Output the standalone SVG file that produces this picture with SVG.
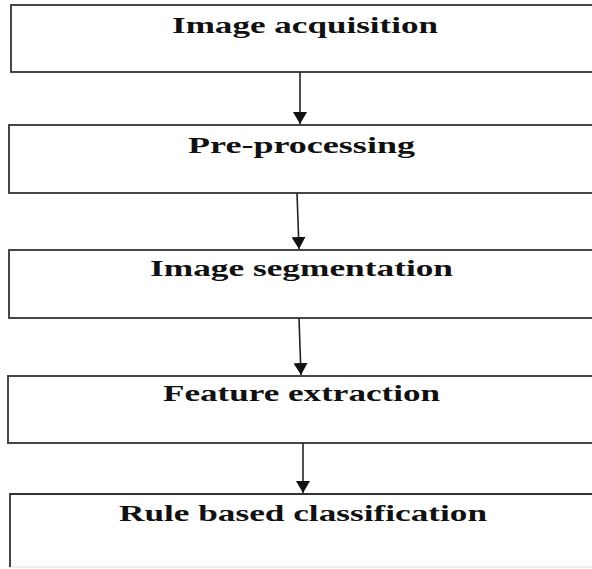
<svg xmlns="http://www.w3.org/2000/svg" width="592" height="569" viewBox="0 0 592 569">
<defs>
<style>
.box{fill:#fff;stroke:#333;stroke-width:1.8}
.lbl{font-family:"Liberation Serif","Times New Roman",serif;font-weight:bold;font-size:23px;fill:#111}
.conn{stroke:#222;stroke-width:1.6;fill:none}
</style>
<marker id="arr" markerUnits="userSpaceOnUse" markerWidth="16" markerHeight="14" refX="12" refY="7" orient="auto">
<path d="M0,0 L12,7 L0,14 Z" fill="#111"/>
</marker>
</defs>
<rect width="592" height="569" fill="#fff"/>
<g id="n1">
<rect class="box" x="11" y="5" width="600" height="67"/>
<text class="lbl" x="172" y="33" textLength="266" lengthAdjust="spacingAndGlyphs">Image acquisition</text>
</g>
<g id="n2">
<rect class="box" x="9" y="125" width="600" height="68"/>
<text class="lbl" x="188" y="153" textLength="227" lengthAdjust="spacingAndGlyphs">Pre-processing</text>
</g>
<g id="n3">
<rect class="box" x="9" y="250" width="600" height="68"/>
<text class="lbl" x="150" y="276" textLength="303" lengthAdjust="spacingAndGlyphs">Image segmentation</text>
</g>
<g id="n4">
<rect class="box" x="8" y="376" width="600" height="67"/>
<text class="lbl" x="163" y="401" textLength="277" lengthAdjust="spacingAndGlyphs">Feature extraction</text>
</g>
<g id="n5">
<rect x="10" y="494" width="600" height="73" fill="#fff" stroke="#ddd" stroke-width="1"/>
<path d="M10,567 L10,494 L610,494" fill="none" stroke="#333" stroke-width="1.8"/>
<text class="lbl" x="119" y="521" textLength="368" lengthAdjust="spacingAndGlyphs">Rule based classification</text>
</g>
<g id="connectors">
<line class="conn" x1="300" y1="72" x2="300" y2="124" marker-end="url(#arr)"/>
<line class="conn" x1="297" y1="193" x2="299" y2="249" marker-end="url(#arr)"/>
<line class="conn" x1="299" y1="318" x2="301" y2="375" marker-end="url(#arr)"/>
<line class="conn" x1="303" y1="443" x2="303" y2="493" marker-end="url(#arr)"/>
</g>
</svg>
